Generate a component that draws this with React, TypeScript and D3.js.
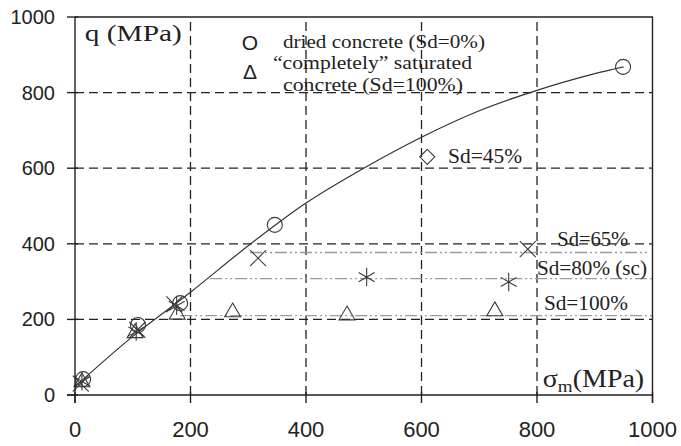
import React, { useEffect, useRef } from 'react'
import { select, scaleLinear, line, curveCatmullRom, symbol, symbolCircle, symbolTriangle2, symbolX, symbolAsterisk, symbolDiamond2 } from 'd3'

const xTicks = [0, 200, 400, 600, 800, 1000]
const yTicks = [0, 200, 400, 600, 800, 1000]

// dried concrete (Sd=0%), circles + fitted curve
const driedPoints = [[14, 42], [109, 185], [182, 243], [346, 450], [949, 868]]
const driedCurve = [[0, 22], [100, 155], [200, 272], [300, 395], [400, 508], [500, 600], [600, 682], [700, 752], [800, 806], [900, 850], [950, 868]]
// other saturation degrees
const sd45Points = [[610, 630]]
const sd65Points = [[10, 30], [108, 172], [172, 240], [317, 362], [784, 386]]
const sd80Points = [[12, 36], [106, 168], [176, 236], [505, 312], [751, 299]]
const sd100Points = [[12, 34], [104, 164], [177, 213], [273, 219], [471, 211], [727, 222]]

// horizontal plateau lines: level q, from x0 to x1
const plateauLevels = [377, 308, 210]
const plateauFrom = [303, 234, 182]
const plateauTo = [995, 1000, 1000]

const sdLabels = ['Sd=45%', 'Sd=65%', 'Sd=80% (sc)', 'Sd=100%']
const sdLabelAt = [[646, 614], [835, 394], [800, 317], [812, 225]]

const legendLines = ['dried concrete (Sd=0%)', '\u201ccompletely\u201d saturated', 'concrete (Sd=100%)']

function App() {
  const ref = useRef<SVGSVGElement>(null)

  useEffect(() => {
    const svg = select(ref.current)
    svg.selectAll('*').remove()

    const serif = "'Liberation Serif', 'Times New Roman', serif"
    const sans = "'Liberation Sans', Arial, sans-serif"
    const ink = '#222'

    const x = scaleLinear().domain([0, 1000]).range([75, 652.5])
    const y = scaleLinear().domain([0, 1000]).range([395, 17])

    // dashed grid
    const grid = svg.append('g')
      .attr('stroke', ink)
      .attr('stroke-width', 1.3)
      .attr('stroke-dasharray', '9,5')
    grid.selectAll('line.v').data(xTicks.slice(1, -1)).enter().append('line')
      .attr('x1', d => x(d)).attr('x2', d => x(d))
      .attr('y1', y(0)).attr('y2', y(1000))
    grid.selectAll('line.h').data(yTicks.slice(1, -1)).enter().append('line')
      .attr('x1', x(0)).attr('x2', x(1000))
      .attr('y1', d => y(d)).attr('y2', d => y(d))

    // plateau lines (dash-dot-dot, grey)
    svg.append('g').selectAll('line').data(plateauLevels).enter().append('line')
      .attr('x1', (d, i) => x(plateauFrom[i]))
      .attr('x2', (d, i) => x(plateauTo[i]))
      .attr('y1', d => y(d)).attr('y2', d => y(d))
      .attr('stroke', '#9a9a9a')
      .attr('stroke-width', 1.3)
      .attr('stroke-dasharray', '12,3,2,3,2,3')

    // fitted curve
    svg.append('path')
      .datum(driedCurve)
      .attr('fill', 'none')
      .attr('stroke', '#333')
      .attr('stroke-width', 1.2)
      .attr('d', line<number[]>()
        .x(d => x(d[0]))
        .y(d => y(d[1]))
        .curve(curveCatmullRom))

    // markers
    const drawMarkers = (data: number[][], type: any, size: number) => {
      svg.append('g').selectAll('path').data(data).enter().append('path')
        .attr('transform', d => `translate(${x(d[0])},${y(d[1])})`)
        .attr('d', symbol().type(type).size(size)() as string)
        .attr('fill', 'none')
        .attr('stroke', '#3a3a3a')
        .attr('stroke-width', 1.1)
    }
    drawMarkers(sd100Points, symbolTriangle2, 182)
    drawMarkers(sd65Points, symbolX, 168)
    drawMarkers(sd80Points, symbolAsterisk, 240)
    drawMarkers(sd45Points, symbolDiamond2, 143)
    drawMarkers(driedPoints, symbolCircle, 177)

    // frame + ticks
    const axes = svg.append('g').attr('stroke', ink).attr('stroke-width', 1.4).attr('fill', 'none')
    axes.append('path')
      .attr('d', `M${x(0)},${y(1000)}H${x(1000)}V${y(0) + 8}M${x(0) - 8},${y(0)}H${x(1000)}M${x(0)},${y(0) + 8}V${y(1000)}`)
    axes.selectAll('line.yt').data(yTicks).enter().append('line')
      .attr('x1', x(0) - 8).attr('x2', x(0) + 3)
      .attr('y1', d => y(d)).attr('y2', d => y(d))
    axes.selectAll('line.xt').data(xTicks).enter().append('line')
      .attr('x1', d => x(d)).attr('x2', d => x(d))
      .attr('y1', y(0) - 3).attr('y2', y(0) + 8)

    // tick labels
    svg.append('g').selectAll('text').data(yTicks).enter().append('text')
      .attr('x', 55).attr('y', d => y(d))
      .attr('dy', '0.35em')
      .attr('text-anchor', 'end')
      .attr('font-family', sans).attr('font-size', 20).attr('fill', ink)
      .text(d => d)
    svg.append('g').selectAll('text').data(xTicks).enter().append('text')
      .attr('x', d => x(d)).attr('y', 437)
      .attr('text-anchor', 'middle')
      .attr('font-family', sans).attr('font-size', 22).attr('fill', ink)
      .text(d => d)

    // axis titles
    svg.append('text')
      .attr('x', x(17)).attr('y', y(937))
      .attr('font-family', serif).attr('font-size', 24).attr('fill', ink)
      .attr('textLength', 97).attr('lengthAdjust', 'spacingAndGlyphs')
      .text('q (MPa)')
    const xt = svg.append('text')
      .attr('transform', `translate(${x(810)},${y(21)}) scale(1.12,1)`)
      .attr('font-family', serif).attr('font-size', 25).attr('fill', ink)
    xt.append('tspan').text('\u03c3')
    xt.append('tspan').attr('font-size', 17).attr('dy', 5).text('m')
    xt.append('tspan').attr('dy', -5).text('(MPa)')

    // Sd labels
    const sdWidths = [74, 71, 110, 84]
    svg.append('g').selectAll('text').data(sdLabels).enter().append('text')
      .attr('x', (d, i) => x(sdLabelAt[i][0]))
      .attr('y', (d, i) => y(sdLabelAt[i][1]))
      .attr('font-family', serif).attr('font-size', 20).attr('fill', ink)
      .attr('textLength', (d, i) => sdWidths[i]).attr('lengthAdjust', 'spacingAndGlyphs')
      .text(d => d)

    // legend
    const lg = svg.append('g')
    lg.append('text').attr('x', 250).attr('y', 43).attr('dy', '0.35em')
      .attr('text-anchor', 'middle')
      .attr('font-family', sans).attr('font-size', 21).attr('fill', ink).text('O')
    lg.append('text').attr('x', 250).attr('y', 72).attr('dy', '0.35em')
      .attr('text-anchor', 'middle')
      .attr('font-family', sans).attr('font-size', 21).attr('fill', ink).text('\u0394')
    const legX = [283, 273, 283]
    const legY = [48, 69, 91]
    const legW = [202, 199, 180]
    lg.selectAll('text.l').data(legendLines).enter().append('text')
      .attr('x', (d, i) => legX[i]).attr('y', (d, i) => legY[i])
      .attr('font-family', serif).attr('font-size', 18.5).attr('fill', ink)
      .attr('textLength', (d, i) => legW[i]).attr('lengthAdjust', 'spacingAndGlyphs')
      .text(d => d)
  }, [])

  return (
    <svg ref={ref} width={681} height={446}
      style={{ position: 'absolute', left: 0, top: 0, background: '#fff' }} />
  )
}

export default App
